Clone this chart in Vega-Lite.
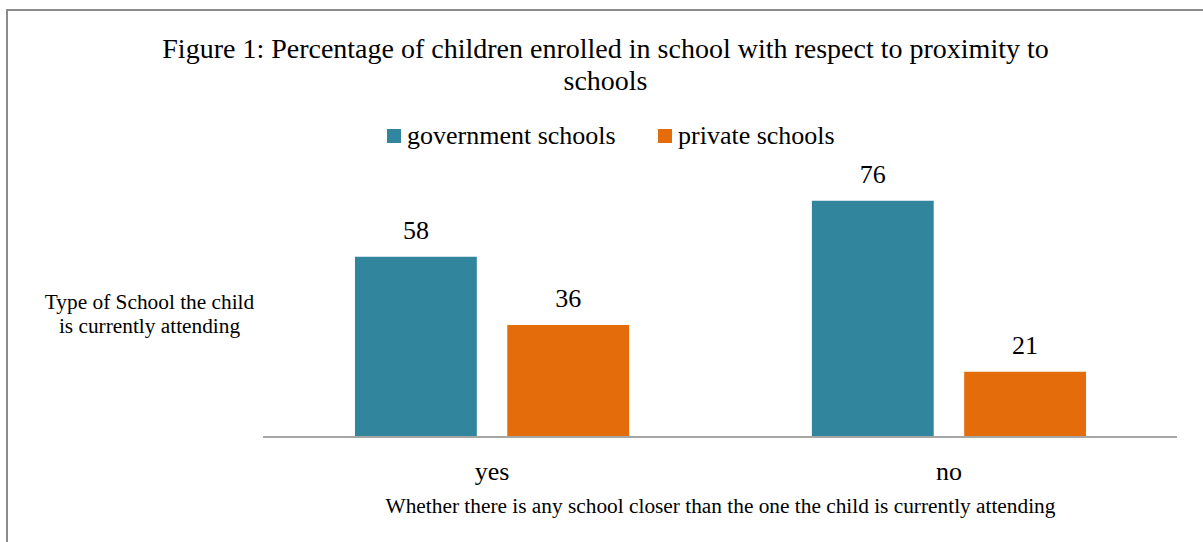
{
  "$schema": "https://vega.github.io/schema/vega-lite/v6.json",
  "width": 1197,
  "height": 533,
  "autosize": {"type": "none"},
  "padding": {"left": 7, "top": 10, "right": 0, "bottom": 0},
  "background": "white",
  "config": {
    "view": {"stroke": "#8c8c8c", "strokeWidth": 2},
    "font": "Liberation Serif"
  },
  "title": {
    "text": ["Figure 1: Percentage of children enrolled in school with respect to proximity to", "schools"],
    "font": "Liberation Serif",
    "fontSize": 28,
    "fontWeight": "normal",
    "color": "#000000",
    "anchor": "middle",
    "baseline": "alphabetic",
    "lineHeight": 32,
    "offset": 0,
    "dy": 108
  },
  "datasets": {
    "enroll": [
      {"closer": "yes", "type": "government schools", "value": 58},
      {"closer": "yes", "type": "private schools", "value": 36},
      {"closer": "no", "type": "government schools", "value": 76},
      {"closer": "no", "type": "private schools", "value": 21}
    ],
    "base": [
      {"closer": "yes"},
      {"closer": "no"}
    ]
  },
  "resolve": {"scale": {"x": "independent"}},
  "layer": [
    {
      "data": {"name": "enroll"},
      "encoding": {
        "x": {
          "field": "closer",
          "type": "nominal",
          "sort": ["yes", "no"],
          "scale": {"paddingInner": 0.4, "paddingOuter": 0.5099, "align": 0.7468},
          "axis": {
            "orient": "bottom",
            "offset": -106,
            "domain": false,
            "ticks": false,
            "tickSize": 0,
            "labelAngle": 0,
            "labelFont": "Liberation Serif",
            "labelFontSize": 26,
            "labelColor": "#000000",
            "labelBaseline": "alphabetic",
            "labelPadding": 42,
            "title": "Whether there is any school closer than the one the child is currently attending",
            "titleFont": "Liberation Serif",
            "titleFontSize": 21.33,
            "titleFontWeight": "normal",
            "titleColor": "#000000",
            "titleX": 713,
            "titleY": 75,
            "titleAlign": "center",
            "titleAnchor": null,
            "titleBaseline": "alphabetic"
          }
        },
        "xOffset": {
          "field": "type",
          "type": "nominal",
          "sort": ["government schools", "private schools"],
          "scale": {"paddingInner": 0.2, "paddingOuter": 0}
        },
        "y": {
          "field": "value",
          "type": "quantitative",
          "scale": {"domain": [-34.08, 137.3], "nice": false, "zero": false},
          "axis": {
            "domain": false,
            "labels": false,
            "ticks": false,
            "grid": false,
            "title": ["Type of School the child", "is currently attending"],
            "titleFont": "Liberation Serif",
            "titleFontSize": 21.33,
            "titleFontWeight": "normal",
            "titleColor": "#000000",
            "titleAngle": 0,
            "titleAlign": "center",
            "titleBaseline": "alphabetic",
            "titleLineHeight": 24,
            "titleX": 142,
            "titleY": 298
          }
        }
      },
      "layer": [
        {
          "mark": {"type": "bar"},
          "encoding": {
            "color": {
              "field": "type",
              "type": "nominal",
              "sort": ["government schools", "private schools"],
              "scale": {"domain": ["government schools", "private schools"], "range": ["#31859C", "#E46C0A"]},
              "legend": {
                "title": null,
                "orient": "none",
                "direction": "horizontal",
                "legendX": 374,
                "legendY": 113,
                "padding": 0,
                "symbolType": "square",
                "symbolSize": 196,
                "symbolStrokeWidth": 0,
                "symbolOpacity": 1,
                "labelFont": "Liberation Serif",
                "labelFontSize": 26,
                "labelColor": "#000000",
                "labelOffset": 0,
                "columnPadding": 36,
                "labelLimit": 400
              }
            }
          }
        },
        {
          "mark": {"type": "text", "font": "Liberation Serif", "fontSize": 26, "color": "#000000", "baseline": "alphabetic", "dy": -18},
          "encoding": {
            "text": {"field": "value", "type": "quantitative"}
          }
        }
      ]
    },
    {
      "data": {"name": "base"},
      "mark": {"type": "rect", "stroke": "#a6a6a6", "strokeWidth": 2, "fill": null},
      "encoding": {
        "x": {
          "field": "closer",
          "type": "nominal",
          "sort": ["yes", "no"],
          "scale": {"paddingInner": 0, "paddingOuter": 0.3096, "align": 0.9046},
          "axis": null
        },
        "y": {"datum": 0, "type": "quantitative"},
        "y2": {"datum": 0}
      }
    }
  ]
}
